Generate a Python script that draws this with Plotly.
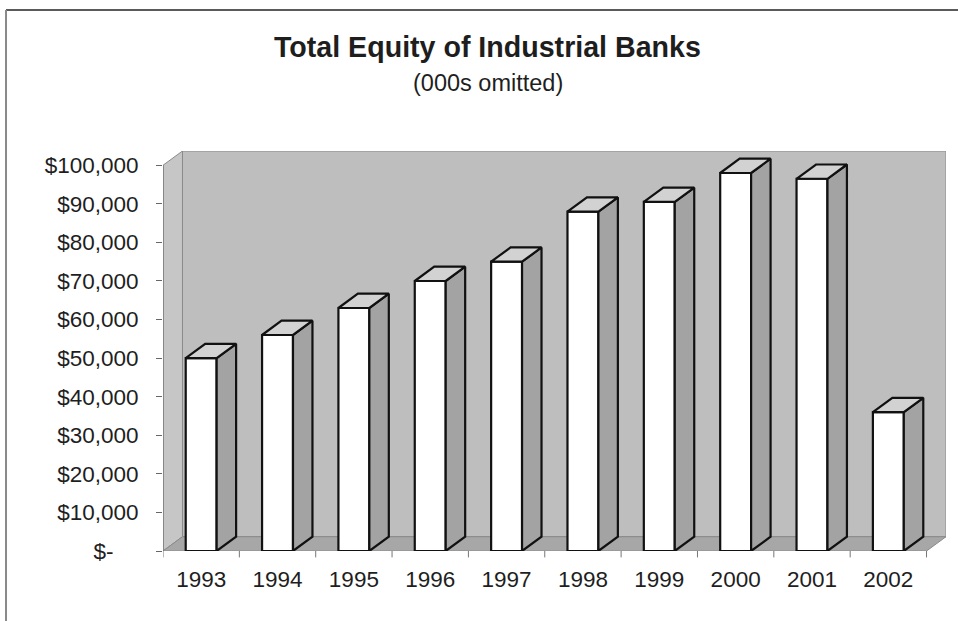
import plotly.graph_objects as go

# Total equity by year, in thousands of dollars
years = ["1993", "1994", "1995", "1996", "1997", "1998", "1999", "2000", "2001", "2002"]
equity = [50000, 56000, 63000, 70000, 75000, 88000, 90500, 98000, 96500, 36000]

y_tick_vals = list(range(0, 100001, 10000))
y_tick_text = ["$-" + "\u00a0" * 4] + [f"${v:,}" for v in y_tick_vals[1:]]

FONT = "Liberation Sans, Arial, Helvetica, sans-serif"
BAR_W = 0.405          # front face width, in category units
DX = 0.255             # oblique depth offset along x (category units)
DY = 3700              # oblique depth offset along y (value units)
Y_MAX = 100000

xs = list(range(len(years)))
x_lo, x_hi = -0.5, len(years) - 0.5

WALL = "#bebebe"
SIDE_WALL = "#c6c6c6"
FLOOR = "#a7a7a7"
BAR_SIDE = "#a3a3a3"
BAR_TOP = "#d2d2d2"
EDGE = "#8a8a8a"

fig = go.Figure()

# front faces of the columns
fig.add_trace(go.Bar(
    x=xs, y=equity, width=BAR_W,
    marker=dict(color="white", line=dict(color="#111111", width=2.2)),
    hoverinfo="skip", showlegend=False,
))

# right side and top faces, projected obliquely from each value
for x, v in zip(xs, equity):
    x0, x1 = x - BAR_W / 2, x + BAR_W / 2
    fig.add_trace(go.Scatter(
        x=[x1, x1, x1 + DX, x1 + DX, x1],
        y=[0, v, v + DY, DY, 0],
        mode="lines", fill="toself", fillcolor=BAR_SIDE,
        line=dict(color="#111111", width=2.2),
        hoverinfo="skip", showlegend=False,
    ))
    fig.add_trace(go.Scatter(
        x=[x0, x1, x1 + DX, x0 + DX, x0],
        y=[v, v, v + DY, v + DY, v],
        mode="lines", fill="toself", fillcolor=BAR_TOP,
        line=dict(color="#111111", width=2.2),
        hoverinfo="skip", showlegend=False,
    ))

shapes = []
# back wall
shapes.append(dict(type="rect", xref="x", yref="y", layer="below",
                   x0=x_lo + DX, x1=x_hi + DX, y0=DY, y1=Y_MAX + DY,
                   fillcolor=WALL, line=dict(color=EDGE, width=1)))
# left side wall
shapes.append(dict(type="path", xref="x", yref="y", layer="below",
                   path=f"M {x_lo},0 L {x_lo},{Y_MAX} L {x_lo + DX},{Y_MAX + DY} L {x_lo + DX},{DY} Z",
                   fillcolor=SIDE_WALL, line=dict(color=EDGE, width=1)))
# floor
shapes.append(dict(type="path", xref="x", yref="y", layer="below",
                   path=f"M {x_lo},0 L {x_hi},0 L {x_hi + DX},{DY} L {x_lo + DX},{DY} Z",
                   fillcolor=FLOOR, line=dict(color=EDGE, width=1)))
# value axis line along the front-left edge
shapes.append(dict(type="line", xref="x", yref="y", layer="above",
                   x0=x_lo, x1=x_lo, y0=0, y1=Y_MAX,
                   line=dict(color="#666666", width=1)))
# category boundary tick marks under the floor
for i in range(len(years) + 1):
    shapes.append(dict(type="line", xref="x", yref="paper",
                       x0=x_lo + i, x1=x_lo + i, y0=0, y1=-0.016,
                       line=dict(color="#777777", width=1)))
# chart frame
shapes.append(dict(type="line", xref="paper", yref="paper",
                   x0=-0.2005, x1=1.03, y0=1.3525, y1=1.3525,
                   line=dict(color="#5a5a5a", width=2)))
shapes.append(dict(type="line", xref="paper", yref="paper",
                   x0=-0.2005, x1=-0.2005, y0=1.3525, y1=-0.22,
                   line=dict(color="#8a8a8a", width=2)))

annotations = [
    dict(text="<b>Total Equity of Industrial Banks</b>", xref="paper", yref="paper",
         x=0.415, y=1.26, xanchor="center", yanchor="middle", showarrow=False,
         font=dict(family=FONT, size=28.6, color="#1e1e1e")),
    dict(text="(000s omitted)", xref="paper", yref="paper",
         x=0.415, y=1.17, xanchor="center", yanchor="middle", showarrow=False,
         font=dict(family=FONT, size=23.5, color="#1e1e1e")),
]

fig.update_layout(
    width=958, height=621, autosize=False,
    margin=dict(l=163, r=12, t=151, b=70, pad=0),
    paper_bgcolor="white", plot_bgcolor="white",
    barmode="overlay", showlegend=False,
    shapes=shapes, annotations=annotations,
    font=dict(family=FONT, color="#1e1e1e"),
    xaxis=dict(range=[x_lo, x_hi + DX], tickvals=xs, ticktext=years,
               ticks="", showgrid=False, zeroline=False, showline=False,
               tickfont=dict(family=FONT, size=22.5, color="#1e1e1e"),
               ticklabelstandoff=12, fixedrange=True),
    yaxis=dict(range=[0, Y_MAX + DY], tickvals=y_tick_vals, ticktext=y_tick_text,
               ticks="outside", ticklen=6, tickcolor="#666666",
               showgrid=False, zeroline=False, showline=False,
               tickfont=dict(family=FONT, size=22.5, color="#1e1e1e"),
               ticklabelstandoff=13, fixedrange=True),
)

fig.write_html("out.html")
